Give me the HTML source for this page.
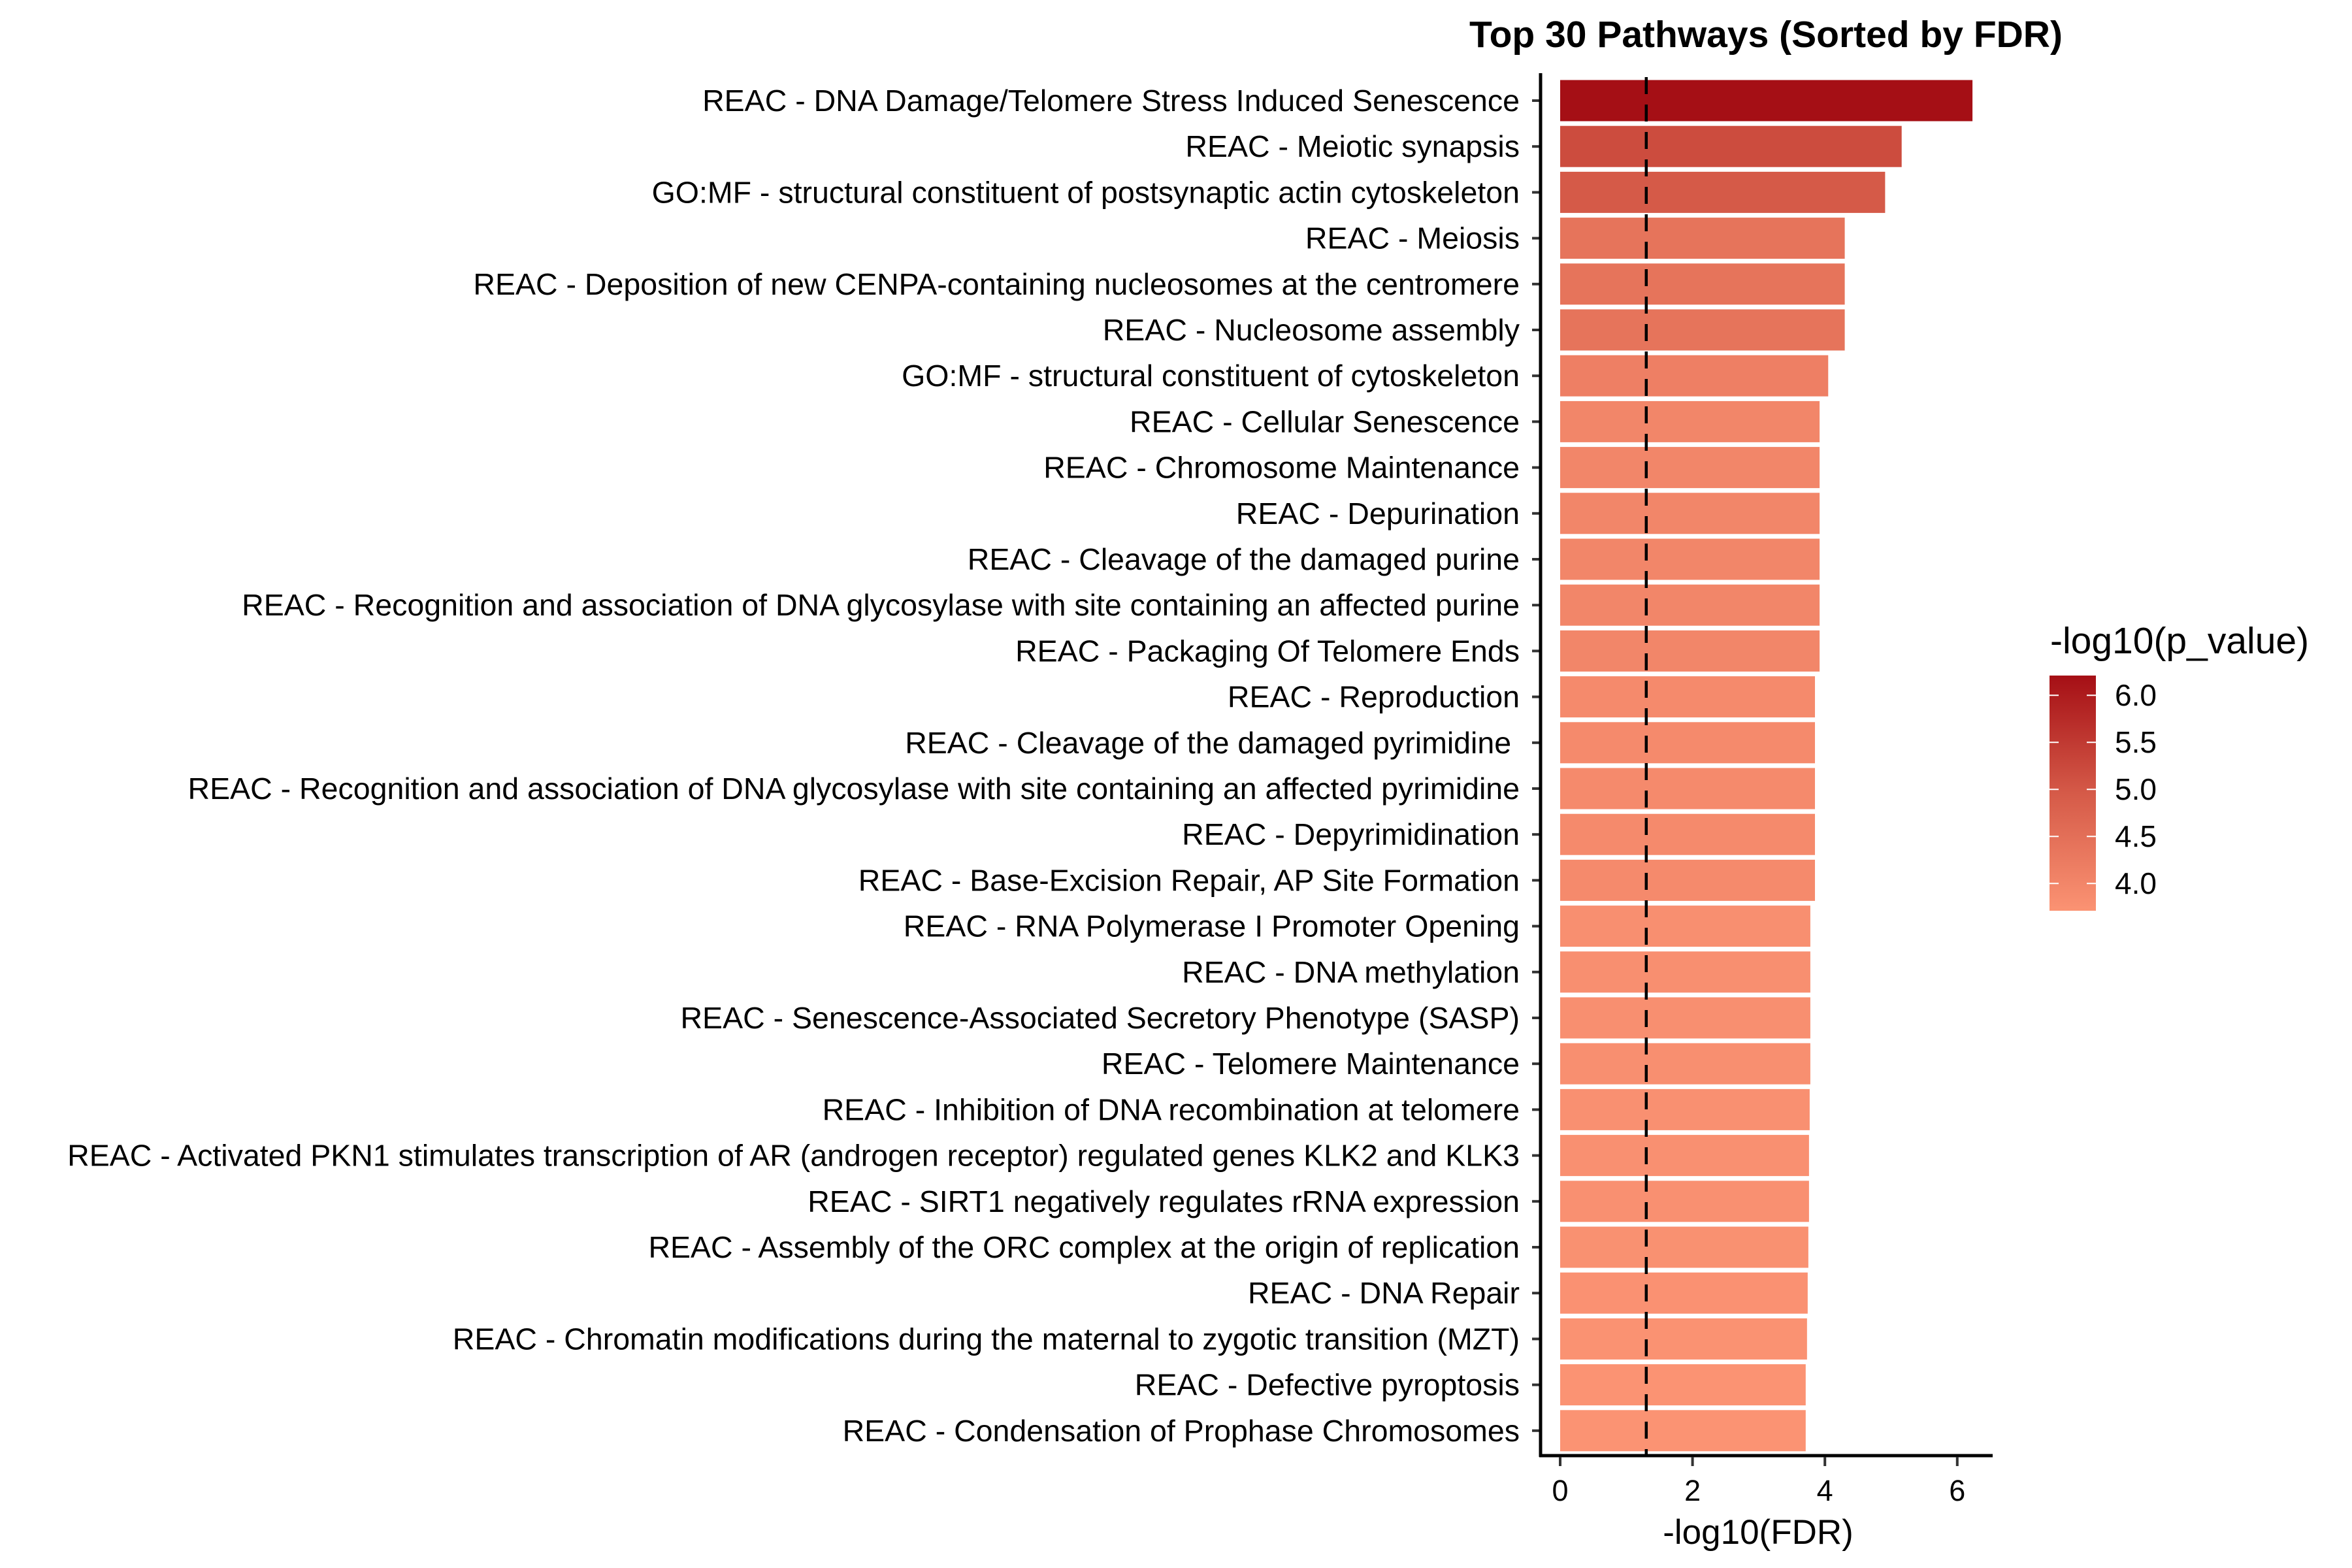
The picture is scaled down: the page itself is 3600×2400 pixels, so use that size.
<!DOCTYPE html>
<html><head><meta charset="utf-8"><style>
html,body{margin:0;padding:0;background:#fff;}
svg{display:block;font-family:"Liberation Sans",Arial,sans-serif;}
</style></head><body>
<svg id="chart" width="3600" height="2400" viewBox="0 0 3600 2400" xmlns="http://www.w3.org/2000/svg">
<defs>
<linearGradient id="cbar" x1="0" y1="1" x2="0" y2="0">
<stop offset="0" stop-color="#fb9373"/>
<stop offset="0.5" stop-color="#d55a48"/>
<stop offset="1" stop-color="#a50f15"/>
</linearGradient>
</defs>
<text x="2703" y="72" text-anchor="middle" font-size="57" font-weight="bold">Top 30 Pathways (Sorted by FDR)</text>
<g id="bars"></g>
<g id="yaxis"></g>
<g id="xaxis"></g>
<g id="legend">
<text x="3138" y="1000" font-size="57">-log10(p_value)</text>
<rect x="3137" y="1034" width="71" height="360" fill="url(#cbar)"/>
<g id="legendticks"></g>
</g>
<text x="2691" y="2363" text-anchor="middle" font-size="53">-log10(FDR)</text>
</svg>
<script>
const categories = [
"REAC - DNA Damage/Telomere Stress Induced Senescence",
"REAC - Meiotic synapsis",
"GO:MF - structural constituent of postsynaptic actin cytoskeleton",
"REAC - Meiosis",
"REAC - Deposition of new CENPA-containing nucleosomes at the centromere",
"REAC - Nucleosome assembly",
"GO:MF - structural constituent of cytoskeleton",
"REAC - Cellular Senescence",
"REAC - Chromosome Maintenance",
"REAC - Depurination",
"REAC - Cleavage of the damaged purine",
"REAC - Recognition and association of DNA glycosylase with site containing an affected purine",
"REAC - Packaging Of Telomere Ends",
"REAC - Reproduction",
"REAC - Cleavage of the damaged pyrimidine\u00a0",
"REAC - Recognition and association of DNA glycosylase with site containing an affected pyrimidine",
"REAC - Depyrimidination",
"REAC - Base-Excision Repair, AP Site Formation",
"REAC - RNA Polymerase I Promoter Opening",
"REAC - DNA methylation",
"REAC - Senescence-Associated Secretory Phenotype (SASP)",
"REAC - Telomere Maintenance",
"REAC - Inhibition of DNA recombination at telomere",
"REAC - Activated PKN1 stimulates transcription of AR (androgen receptor) regulated genes KLK2 and KLK3",
"REAC - SIRT1 negatively regulates rRNA expression",
"REAC - Assembly of the ORC complex at the origin of replication",
"REAC - DNA Repair",
"REAC - Chromatin modifications during the maternal to zygotic transition (MZT)",
"REAC - Defective pyroptosis",
"REAC - Condensation of Prophase Chromosomes"
];
const fdrValues = [6.23,5.16,4.91,4.30,4.30,4.30,4.05,3.92,3.92,3.92,3.92,3.92,3.92,3.85,3.85,3.85,3.85,3.85,3.78,3.78,3.78,3.78,3.77,3.76,3.76,3.75,3.74,3.73,3.71,3.71];
const pValues = [6.21,5.20,4.95,4.40,4.40,4.40,4.15,4.00,4.00,4.00,4.00,4.00,4.00,3.90,3.90,3.90,3.90,3.90,3.80,3.80,3.80,3.80,3.78,3.78,3.77,3.76,3.75,3.73,3.72,3.71];
const xTicks = [0,2,4,6];
const legendTicks = [4.0,4.5,5.0,5.5,6.0];
const threshold = 1.301;

const NS = "http://www.w3.org/2000/svg";
const X0 = 2388, XU = 101.3;
const xScale = v => X0 + v * XU;
const Y0 = 154, YP = 70.2;
const yScale = i => Y0 + i * YP;
const pMin = 3.71, pMax = 6.21;
const cbTop = 1034, cbBot = 1394;
const legendY = v => cbBot - (v - pMin) / (pMax - pMin) * (cbBot - cbTop);
function lerp(a,b,t){return Math.round(a+(b-a)*t);}
function colorFor(p){
  const stops=[[3.71,[251,147,115]],[4.96,[213,90,72]],[6.21,[165,15,21]]];
  let t=Math.max(pMin,Math.min(pMax,p));
  for(let i=0;i<stops.length-1;i++){
    if(t<=stops[i+1][0]){
      const f=(t-stops[i][0])/(stops[i+1][0]-stops[i][0]);
      const a=stops[i][1],b=stops[i+1][1];
      return `rgb(${lerp(a[0],b[0],f)},${lerp(a[1],b[1],f)},${lerp(a[2],b[2],f)})`;
    }
  }
  return "rgb(165,15,21)";
}
function mk(tag, attrs, parent){
  const e=document.createElementNS(NS,tag);
  for(const k in attrs) e.setAttribute(k,attrs[k]);
  parent.appendChild(e); return e;
}
const bars=document.getElementById('bars');
const yaxis=document.getElementById('yaxis');
const xaxis=document.getElementById('xaxis');
const BH=63;
categories.forEach((c,i)=>{
  const y=yScale(i);
  const r=mk('rect',{x:xScale(0),y:y-BH/2,width:xScale(fdrValues[i])-xScale(0),height:BH,fill:colorFor(pValues[i])},bars);
  
  
  const t=mk('text',{x:2326,y:y+16,'text-anchor':'end','font-size':'46.5',fill:'#000'},yaxis);
  t.textContent=c;
  
  
  const tk=mk('line',{x1:2345,x2:2358,y1:y,y2:y,stroke:'#333','stroke-width':4},yaxis);
  
  
});
const th=mk('line',{x1:xScale(threshold),x2:xScale(threshold),y1:118,y2:2227,stroke:'#000','stroke-width':4.5,'stroke-dasharray':'26 16'},bars);


const ya=mk('line',{x1:2358,x2:2358,y1:112,y2:2230,stroke:'#000','stroke-width':5},yaxis);


const xa=mk('line',{x1:2356,x2:3050,y1:2228,y2:2228,stroke:'#000','stroke-width':5},xaxis);


xTicks.forEach(v=>{
  const tk=mk('line',{x1:xScale(v),x2:xScale(v),y1:2230,y2:2244,stroke:'#333','stroke-width':4},xaxis);
  
  
  const t=mk('text',{x:xScale(v),y:2297,'text-anchor':'middle','font-size':'45',fill:'#000'},xaxis);
  t.textContent=String(v);
  
  
});
const lt=document.getElementById('legendticks');
legendTicks.forEach(v=>{
  const y=legendY(v);
  const a=mk('line',{x1:3137,x2:3151,y1:y,y2:y,stroke:'#fff','stroke-width':2},lt);
  
  
  const b=mk('line',{x1:3194,x2:3208,y1:y,y2:y,stroke:'#fff','stroke-width':2},lt);
  
  
  const t=mk('text',{x:3237,y:y+16,'font-size':'46',fill:'#000'},lt);
  t.textContent=v.toFixed(1);
  
  
});
</script>
</body></html>
